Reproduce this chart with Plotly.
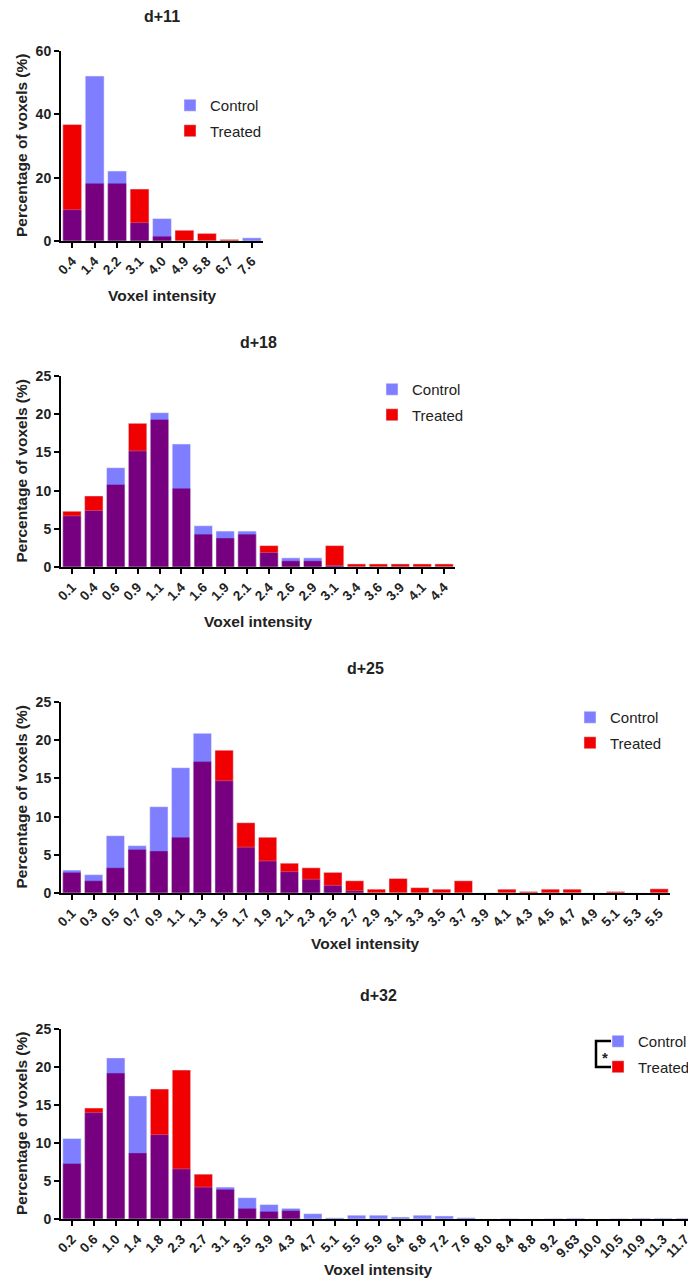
import plotly.graph_objects as go

# the page body has an 8px margin, so the figure is 8px smaller than the window
PAD = 8
W, H = 696 - PAD, 1280 - PAD
FONT = "Arial, 'Liberation Sans', sans-serif"
RED = "#f00000"
BLUE = "#0000ff"

# d+11
cats_d11 = ["0.4", "1.4", "2.2", "3.1", "4.0", "4.9", "5.8", "6.7", "7.6"]
control_d11 = [9.9, 52.1, 22.1, 5.8, 7.1, 0, 0, 0, 1.0]
treated_d11 = [36.8, 18.2, 18.2, 16.4, 1.5, 3.4, 2.4, 0.5, 0]

# d+18
cats_d18 = ["0.1", "0.4", "0.6", "0.9", "1.1", "1.4", "1.6", "1.9", "2.1",
            "2.4", "2.6", "2.9", "3.1", "3.4", "3.6", "3.9", "4.1", "4.4"]
control_d18 = [6.7, 7.4, 13.0, 15.2, 20.2, 16.1, 5.4, 4.7, 4.7,
               1.9, 1.2, 1.2, 0.2, 0, 0, 0, 0, 0]
treated_d18 = [7.3, 9.3, 10.8, 18.8, 19.3, 10.3, 4.3, 3.8, 4.3,
               2.8, 0.8, 0.8, 2.8, 0.4, 0.4, 0.4, 0.4, 0.4]

# d+25
cats_d25 = ["0.1", "0.3", "0.5", "0.7", "0.9", "1.1", "1.3", "1.5", "1.7", "1.9",
            "2.1", "2.3", "2.5", "2.7", "2.9", "3.1", "3.3", "3.5", "3.7", "3.9",
            "4.1", "4.3", "4.5", "4.7", "4.9", "5.1", "5.3", "5.5"]
control_d25 = [3.0, 2.4, 7.5, 6.2, 11.3, 16.4, 20.9, 14.7, 6.0, 4.2,
               2.8, 1.8, 1.0, 0.3, 0, 0, 0, 0, 0, 0,
               0, 0, 0, 0, 0, 0, 0, 0]
treated_d25 = [2.7, 1.6, 3.3, 5.7, 5.5, 7.3, 17.2, 18.7, 9.2, 7.3,
               3.9, 3.3, 2.7, 1.6, 0.5, 1.9, 0.7, 0.5, 1.6, 0,
               0.5, 0.2, 0.5, 0.5, 0, 0.2, 0, 0.55]

# d+32
cats_d32 = ["0.2", "0.6", "1.0", "1.4", "1.8", "2.3", "2.7", "3.1", "3.5", "3.9",
            "4.3", "4.7", "5.1", "5.5", "5.9", "6.4", "6.8", "7.2", "7.6", "8.0",
            "8.4", "8.8", "9.2", "9.63", "10.0", "10.5", "10.9", "11.3", "11.7"]
control_d32 = [10.6, 14.0, 21.2, 16.2, 11.1, 6.6, 4.2, 4.2, 2.8, 1.9,
               1.4, 0.7, 0.15, 0.5, 0.5, 0.26, 0.5, 0.4, 0.17, 0,
               0.05, 0, 0.05, 0.1, 0, 0.05, 0.1, 0.1, 0.1]
treated_d32 = [7.3, 14.6, 19.2, 8.7, 17.1, 19.6, 5.9, 3.9, 1.4, 1.0,
               1.1, 0, 0, 0, 0, 0, 0, 0, 0, 0,
               0, 0, 0, 0, 0, 0, 0, 0, 0]

panels = [
    ("d+11", cats_d11, control_d11, treated_d11, 60, 20),
    ("d+18", cats_d18, control_d18, treated_d18, 25, 5),
    ("d+25", cats_d25, control_d25, treated_d25, 25, 5),
    ("d+32", cats_d32, control_d32, treated_d32, 25, 5),
]

# pixel layout (window coords) of each panel: plot left/right, top/bottom,
# legend swatch centre, gap down to the x-axis title
boxes = [
    dict(x0=61, x1=263, y0=51, y1=241, lx=190, ly=118, xt=55),
    dict(x0=61, x1=455, y0=376, y1=567, lx=392, ly=402, xt=54),
    dict(x0=61, x1=670, y0=702, y1=893, lx=590, ly=730, xt=51),
    dict(x0=61, x1=696, y0=1029, y1=1219, lx=618, ly=1054, xt=50),
]


def px(x):
    return (x - PAD) / W


def py(y):
    return 1 - (y - PAD) / H


def label(text, x, y, size, angle=0):
    return dict(text=text, x=px(x), y=py(y), xref="paper", yref="paper",
                xanchor="center", yanchor="middle", textangle=angle, showarrow=False,
                font=dict(family=FONT, size=size, color="#222", weight="bold"))


fig = go.Figure()
annotations = []

for i, ((title, cats, ctrl, trt, ymax, dtick), b) in enumerate(zip(panels, boxes)):
    n = "" if i == 0 else str(i + 1)
    leg = "legend" + n
    # treated underneath, semi-transparent control on top -> purple overlap
    fig.add_trace(go.Bar(x=cats, y=trt, name="Treated", marker_color=RED, legendrank=2,
                         legendgroup="t" + n, width=0.84, xaxis="x" + n, yaxis="y" + n, legend=leg))
    fig.add_trace(go.Bar(x=cats, y=ctrl, name="Control", marker_color=BLUE, legendrank=1,
                         legendgroup="c" + n, opacity=0.5, width=0.84, xaxis="x" + n, yaxis="y" + n,
                         legend=leg))

    fig.layout["xaxis" + n] = dict(
        domain=[px(b["x0"]), px(b["x1"])], anchor="y" + n, type="category",
        range=[-0.5, len(cats) - 0.5], showline=True, linecolor="black", linewidth=2,
        ticks="outside", ticklen=5, tickwidth=1.5, tickcolor="black", tickangle=-45,
        tickfont=dict(family=FONT, size=13.5, color="#222", weight="bold"),
        showgrid=False, zeroline=False, automargin=False,
    )
    fig.layout["yaxis" + n] = dict(
        domain=[py(b["y1"]), py(b["y0"])], anchor="x" + n, range=[0, ymax], dtick=dtick,
        showline=True, linecolor="black", linewidth=2,
        ticks="outside", ticklen=5, tickwidth=1.5, tickcolor="black",
        tickfont=dict(family=FONT, size=14, color="#222", weight="bold"),
        showgrid=False, zeroline=False, automargin=False,
    )
    fig.layout[leg] = dict(
        x=px(b["lx"] - 20), y=py(b["ly"]), xanchor="left", yanchor="middle",
        traceorder="grouped", tracegroupgap=3, bgcolor="rgba(0,0,0,0)",
        font=dict(family=FONT, size=15, color="#222"),
    )

    cx = (b["x0"] + b["x1"]) / 2
    annotations.append(label(title, cx, b["y0"] - 34, 16))
    annotations.append(label("Voxel intensity", cx, b["y1"] + b["xt"], 15.5))
    annotations.append(label("Percentage of voxels (%)", 21, (b["y0"] + b["y1"]) / 2, 15.5, -90))

# significance bracket next to the d+32 legend
fig.add_shape(type="path", xref="paper", yref="paper",
              path=f"M {px(611)} {py(1041)} L {px(596)} {py(1041)} L {px(596)} {py(1067)} L {px(611)} {py(1067)}",
              line=dict(color="black", width=2.5))
annotations.append(label("*", 605, 1057, 15))

fig.update_layout(
    width=W, height=H, margin=dict(l=0, r=0, t=0, b=0),
    barmode="overlay", showlegend=True,
    plot_bgcolor="white", paper_bgcolor="white",
    annotations=annotations,
)

fig.write_html("out.html")
